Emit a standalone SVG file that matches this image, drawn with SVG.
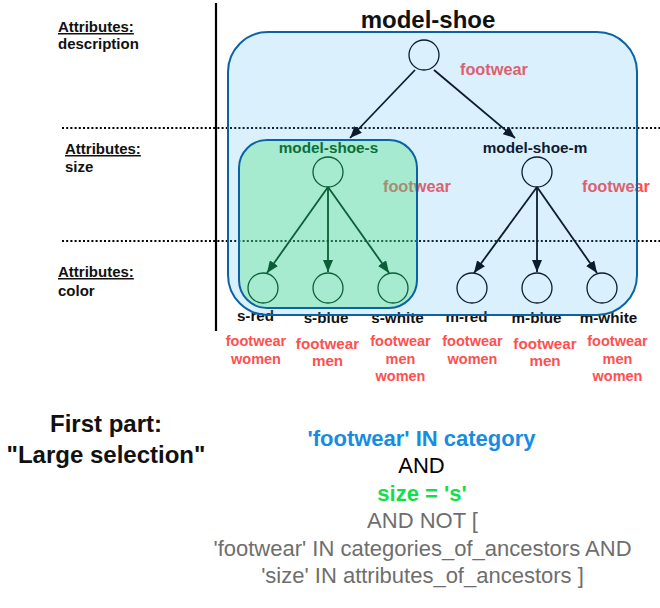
<svg xmlns="http://www.w3.org/2000/svg" width="660" height="608" viewBox="0 0 660 608">
<style>
text{font-family:"Liberation Sans",Arial,sans-serif}
.b{font-weight:bold}
.attr{font-size:15px;font-weight:bold;fill:#111}
.fw{font-size:16.3px;font-weight:bold;fill:#ff4d4d}
.tag{font-weight:bold;fill:#ff5050;text-anchor:middle}
.leaf{font-size:15.2px;font-weight:bold;fill:#111;text-anchor:middle}
.dot{stroke:#000;stroke-width:2;stroke-dasharray:2 2.2;fill:none}
.cg{fill:none;stroke:#0b5e36;stroke-width:1.3}
.cn{fill:none;stroke:#0d1b2e;stroke-width:1.3}
.eg{stroke:#0b5e36;stroke-width:1.8;fill:none}
.en{stroke:#0d1b2e;stroke-width:1.8;fill:none}
.q{text-anchor:middle;font-size:22px}
</style>
<defs>
<marker id="ag" markerUnits="userSpaceOnUse" markerWidth="12" markerHeight="10" viewBox="0 0 12 10" refX="12" refY="5" orient="auto"><path d="M0,0 L12,5 L0,10 Z" fill="#0b5e36"/></marker>
<marker id="an" markerUnits="userSpaceOnUse" markerWidth="12" markerHeight="10" viewBox="0 0 12 10" refX="12" refY="5" orient="auto"><path d="M0,0 L12,5 L0,10 Z" fill="#0d1b2e"/></marker>
</defs>

<g id="guides">
<line x1="216" y1="3" x2="216" y2="331" stroke="#000" stroke-width="2.2"/>
<line class="dot" x1="62" y1="128" x2="660" y2="128"/>
<line class="dot" x1="62" y1="241" x2="660" y2="241"/>
</g>

<g id="levels">
<text class="attr" x="58" y="32" text-decoration="underline">Attributes:</text>
<text class="attr" x="58" y="49">description</text>
<text class="attr" x="65" y="154" text-decoration="underline">Attributes:</text>
<text class="attr" x="65" y="172">size</text>
<text class="attr" x="58" y="277" text-decoration="underline">Attributes:</text>
<text class="attr" x="58" y="296">color</text>
</g>

<g id="categories">
<text class="fw" x="460" y="75">footwear</text>
<text class="fw" x="383" y="192">footwear</text>
<text class="fw" x="582" y="192">footwear</text>
</g>

<g id="leaf-names">
<text class="leaf" x="255.5" y="321">s-red</text>
<text class="leaf" x="326" y="323">s-blue</text>
<text class="leaf" x="397.5" y="323">s-white</text>
<text class="leaf" x="466.5" y="322">m-red</text>
<text class="leaf" x="536.5" y="323">m-blue</text>
<text class="leaf" x="608.5" y="323">m-white</text>
</g>

<g id="containers">
<rect id="box-model-shoe" x="228" y="32" width="409" height="283" rx="40" ry="40" fill="#4bb4f5" fill-opacity="0.2" stroke="#0b63a6" stroke-width="2"/>
<rect id="box-model-shoe-s" x="239" y="140" width="178" height="168" rx="28" ry="28" fill="#46e07a" fill-opacity="0.35" stroke="#0b63a6" stroke-width="2"/>
</g>

<g id="node-model-shoe">
<text class="b" x="428" y="28" text-anchor="middle" font-size="24" fill="#111">model-shoe</text>
<circle class="cn" cx="424" cy="55" r="15"/>
</g>
<g id="node-model-shoe-s">
<text class="b" x="328.5" y="153" text-anchor="middle" font-size="15.3" fill="#0b6e3c">model-shoe-s</text>
<circle class="cg" cx="328" cy="172" r="15"/>
</g>
<g id="node-model-shoe-m">
<text class="b" x="535" y="153" text-anchor="middle" font-size="15.3" fill="#0d1b33">model-shoe-m</text>
<circle class="cn" cx="537" cy="172" r="15"/>
</g>
<g id="node-s-red"><circle class="cg" cx="263" cy="288" r="15"/>
<text class="tag" font-size="14.5" x="256" y="346">footwear</text><text class="tag" font-size="14.5" x="256" y="364">women</text></g>
<g id="node-s-blue"><circle class="cg" cx="328" cy="288" r="15"/>
<text class="tag" font-size="15.2" x="327.5" y="349">footwear</text><text class="tag" font-size="15.2" x="327.5" y="366">men</text></g>
<g id="node-s-white"><circle class="cg" cx="393" cy="288" r="15"/>
<text class="tag" font-size="14.5" x="400.5" y="346">footwear</text><text class="tag" font-size="14.5" x="400.5" y="364">men</text><text class="tag" font-size="14.5" x="400.5" y="381">women</text></g>
<g id="node-m-red"><circle class="cn" cx="472" cy="288" r="15"/>
<text class="tag" font-size="14.5" x="472.5" y="346">footwear</text><text class="tag" font-size="14.5" x="472.5" y="364">women</text></g>
<g id="node-m-blue"><circle class="cn" cx="537" cy="288" r="15"/>
<text class="tag" font-size="15.2" x="545" y="349">footwear</text><text class="tag" font-size="15.2" x="545" y="366">men</text></g>
<g id="node-m-white"><circle class="cn" cx="602" cy="288" r="15"/>
<text class="tag" font-size="14.5" x="617.5" y="346">footwear</text><text class="tag" font-size="14.5" x="617.5" y="364">men</text><text class="tag" font-size="14.5" x="617.5" y="381">women</text></g>

<g id="connectors">
<line class="en" x1="415" y1="70" x2="350" y2="138" marker-end="url(#an)"/>
<line class="en" x1="434" y1="70" x2="515" y2="138" marker-end="url(#an)"/>
<line class="eg" x1="328" y1="187" x2="267" y2="273" marker-end="url(#ag)"/>
<line class="eg" x1="328" y1="187" x2="328" y2="272" marker-end="url(#ag)"/>
<line class="eg" x1="328" y1="187" x2="389" y2="273" marker-end="url(#ag)"/>
<line class="en" x1="537" y1="187" x2="474" y2="273" marker-end="url(#an)"/>
<line class="en" x1="537" y1="187" x2="537" y2="272" marker-end="url(#an)"/>
<line class="en" x1="537" y1="187" x2="597" y2="273" marker-end="url(#an)"/>
</g>

<g id="caption">
<text class="b" x="106" y="432" text-anchor="middle" font-size="24" fill="#111">First part:</text>
<text class="b" x="106" y="463" text-anchor="middle" font-size="24" fill="#111">"Large selection"</text>
</g>

<g id="query">
<text class="q b" x="421.5" y="446" fill="#168de2">'footwear' IN category</text>
<text class="q" x="421.5" y="473" fill="#000">AND</text>
<text class="q b" x="422" y="501" fill="#0fe04a">size = 's'</text>
<text class="q" x="422.5" y="528" fill="#6e6e6e">AND NOT [</text>
<text class="q" x="422.5" y="556" fill="#6e6e6e">'footwear' IN categories_of_ancestors AND</text>
<text class="q" x="422.5" y="583" fill="#6e6e6e">'size' IN attributes_of_ancestors ]</text>
</g>
</svg>
